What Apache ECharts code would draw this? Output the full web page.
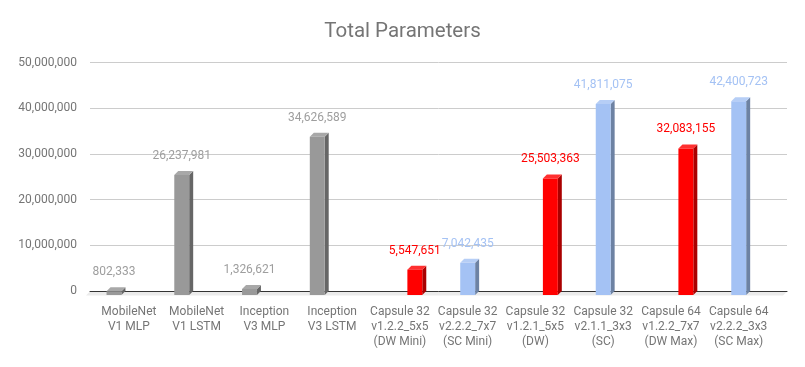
<!DOCTYPE html>
<html>
<head>
<meta charset="utf-8">
<script src="https://cdn.jsdelivr.net/npm/echarts@6/dist/echarts.min.js"></script>
<style>
  html, body { margin: 0; padding: 0; background: #fff; }
  #main { width: 805px; height: 367px; }
</style>
</head>
<body>
<div id="main"></div>
<script>
var categories = [
	'MobileNet\nV1 MLP', 'MobileNet\nV1 LSTM', 'Inception\nV3 MLP', 'Inception\nV3 LSTM',
	'Capsule 32\nv1.2.2_5x5\n(DW Mini)', 'Capsule 32\nv2.2.2_7x7\n(SC Mini)',
	'Capsule 32\nv1.2.1_5x5\n(DW)', 'Capsule 32\nv2.1.1_3x3\n(SC)',
	'Capsule 64\nv1.2.2_7x7\n(DW Max)', 'Capsule 64\nv2.2.2_3x3\n(SC Max)'
];
var baseline = [802333, 26237981, 1326621, 34626589, null, null, null, null, null, null];
var scModels = [null, null, null, null, null, 7042435, null, 41811075, null, 42400723];
var dwModels = [null, null, null, null, 5547651, null, 25503363, null, 32083155, null];
var yTicks = [0, 10000000, 20000000, 30000000, 40000000, 50000000];

var chart = echarts.init(document.getElementById('main'));
var D = 4; // depth of the 3d look

function toData(arr) {
	var out = [];
	arr.forEach(function (v, i) {
		if (v != null) out.push([i, v]);
	});
	return out;
}

function barSeries(name, arr, offset, colors) {
	return {
		name: name,
		type: 'custom',
		xAxisIndex: 1,
		yAxisIndex: 1,
		z: 3,
		data: toData(arr),
		renderItem: function (params, api) {
			var idx = api.value(0);
			var val = api.value(1);
			var top = api.coord([idx, val]);
			var bot = api.coord([idx, 0]);
			var band = api.size([1, 0])[0];
			var w = band * 0.22;
			var cx = top[0] + offset * w;
			var x0 = cx - w / 2, x1 = cx + w / 2;
			var yt = top[1] + D, yb = bot[1] + D;
			return {
				type: 'group',
				children: [
					{ type: 'polygon', shape: { points: [[x1, yt], [x1 + D, yt - D], [x1 + D, yb - D], [x1, yb]] }, style: { fill: colors[1] } },
					{ type: 'polygon', shape: { points: [[x0, yt], [x0 + D, yt - D], [x1 + D, yt - D], [x1, yt]] }, style: { fill: colors[2] } },
					{ type: 'rect', shape: { x: x0, y: yt, width: w, height: yb - yt }, style: { fill: colors[0] } },
					{ type: 'text', x: cx, y: top[1] - 15, style: {
						text: val.toLocaleString('en-US'), fill: colors[3],
						fontSize: 12, fontFamily: 'Roboto', align: 'center', verticalAlign: 'middle'
					} }
				]
			};
		}
	};
}

var option = {
	backgroundColor: '#fff',
	animation: false,
	title: {
		text: 'Total Parameters',
		left: 'center',
		top: 16,
		textStyle: { fontFamily: 'Roboto', fontSize: 20.5, fontWeight: 'normal', color: '#757575' }
	},
	grid: [
		{ left: 90, right: 18, top: 62.5, bottom: 76 },
		{ left: 95, right: 32.4, top: 62.5, bottom: 76 }
	],
	xAxis: [{
		gridIndex: 0,
		type: 'value',
		min: 0,
		max: 1,
		axisLine: { show: true, lineStyle: { color: '#333', width: 1 } },
		axisTick: { show: false },
		axisLabel: { show: false },
		splitLine: { show: false }
	}, {
		gridIndex: 1,
		type: 'category',
		data: categories,
		axisLine: { show: false },
		axisTick: { show: false },
		axisLabel: {
			interval: 0,
			margin: 13,
			lineHeight: 15,
			fontFamily: 'Roboto',
			fontSize: 12,
			color: '#757575'
		}
	}],
	yAxis: [{
		gridIndex: 0,
		type: 'value',
		min: yTicks[0],
		max: yTicks[yTicks.length - 1],
		interval: yTicks[1] - yTicks[0],
		axisLine: { show: false },
		axisTick: { show: false },
		axisLabel: {
			margin: 13,
			fontFamily: 'Roboto',
			fontSize: 12,
			color: '#757575',
			formatter: function (v) { return v.toLocaleString('en-US'); }
		},
		splitLine: { show: true, lineStyle: { color: '#cccccc' } }
	}, {
		gridIndex: 1,
		type: 'value',
		min: yTicks[0],
		max: yTicks[yTicks.length - 1],
		interval: yTicks[1] - yTicks[0],
		axisLine: { show: false },
		axisTick: { show: false },
		axisLabel: { show: false },
		splitLine: { show: false }
	}],
	series: [{
		// floor strip under the zero line
		type: 'custom',
		xAxisIndex: 0,
		yAxisIndex: 0,
		z: -1,
		silent: true,
		data: [[0, 0]],
		renderItem: function (params, api) {
			var a = api.coord([0, 0]);
			var b = api.coord([1, 0]);
			return {
				type: 'polygon',
				shape: { points: [[a[0], a[1] + 0.5], [b[0], b[1] + 0.5], [b[0] - D, b[1] + D + 0.5], [a[0] - D, a[1] + D + 0.5]] },
				style: { fill: '#ebebeb' }
			};
		}
	},
		barSeries('baseline', baseline, -1, ['#999999', '#666666', '#a8a8a8', '#9e9e9e']),
		barSeries('sc', scModels, 0, ['#a4c2f4', '#6d82a3', '#b6cef6', '#a4c2f4']),
		barSeries('dw', dwModels, 1, ['#ff0000', '#aa0000', '#ff3030', '#ff0000'])
	]
};

chart.setOption(option);

window.onresize = function () {
	chart.resize();
};
</script>
</body>
</html>
